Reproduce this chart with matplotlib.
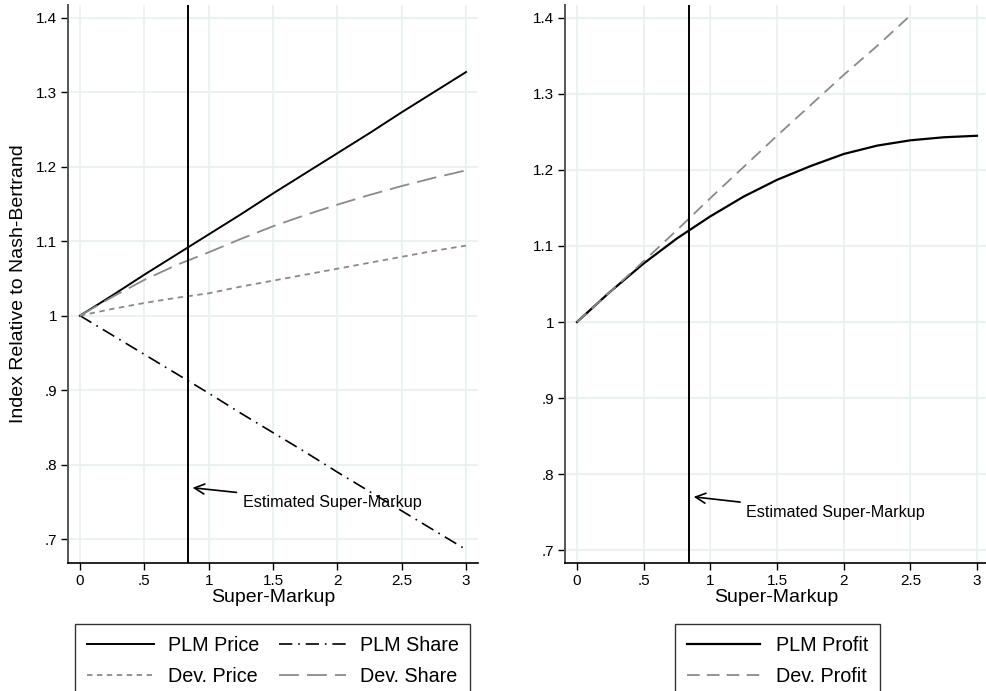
import numpy as np
import matplotlib
matplotlib.use("Agg")
import matplotlib.pyplot as plt
from matplotlib.lines import Line2D

plt.rcParams['font.family'] = ['Liberation Sans', 'DejaVu Sans']

# data
markup = [0, 0.25, 0.5, 0.75, 1, 1.25, 1.5, 1.75, 2, 2.25, 2.5, 2.75, 3]
plm_price = [1, 1.027, 1.055, 1.082, 1.109, 1.136, 1.164, 1.191, 1.218, 1.245, 1.273, 1.300, 1.327]
plm_share = [1, 0.974, 0.948, 0.922, 0.896, 0.869, 0.843, 0.817, 0.790, 0.764, 0.738, 0.712, 0.686]
dev_price = [1, 1.009, 1.017, 1.024, 1.030, 1.039, 1.047, 1.055, 1.063, 1.071, 1.079, 1.087, 1.094]
dev_share = [1, 1.025, 1.048, 1.068, 1.085, 1.103, 1.120, 1.135, 1.149, 1.162, 1.174, 1.185, 1.195]
plm_profit = [1, 1.040, 1.077, 1.110, 1.139, 1.165, 1.187, 1.205, 1.221, 1.232, 1.239, 1.243, 1.245]
dev_markup = [0, 0.25, 0.5, 0.75, 1, 1.25, 1.5, 1.75, 2, 2.25, 2.48]
dev_profit = [1, 1.040, 1.080, 1.121, 1.163, 1.204, 1.245, 1.285, 1.325, 1.363, 1.40]
est_markup = 0.84

xticks = [0, 0.5, 1, 1.5, 2, 2.5, 3]
xtick_labels = ["0", ".5", "1", "1.5", "2", "2.5", "3"]
yticks = [0.7, 0.8, 0.9, 1.0, 1.1, 1.2, 1.3, 1.4]
ytick_labels = [".7", ".8", ".9", "1", "1.1", "1.2", "1.3", "1.4"]

grey = "#8a8a8a"
gridc = "#e8f0f2"

fig = plt.figure(figsize=(9.87, 6.91), dpi=100)
ax1 = fig.add_axes([68/987, 1-563/691, (478-68)/987, (563-5)/691])
ax2 = fig.add_axes([565/987, 1-563/691, (987-565)/987, (563-5)/691])


def style(ax, xlim, ylim):
    ax.set_xlim(*xlim)
    ax.set_ylim(*ylim)
    ax.set_xticks(xticks)
    ax.set_xticklabels(xtick_labels)
    ax.set_yticks(yticks)
    ax.set_yticklabels(ytick_labels)
    ax.grid(True, color=gridc, lw=1.2)
    ax.set_axisbelow(True)
    for s in ["top", "right"]:
        ax.spines[s].set_visible(False)
    ax.spines["left"].set_color("#555555")
    ax.spines["left"].set_linewidth(1.4)
    ax.spines["bottom"].set_linewidth(1.2)
    ax.tick_params(labelsize=11, length=5, width=1, pad=3)
    ax.set_xlabel("Super-Markup", fontsize=14, labelpad=1)


# left panel
style(ax1, (-0.093, 3.093), (0.668, 1.417))
ax1.plot(markup, plm_price, color="black", lw=1.4)
ax1.plot(markup, plm_share, color="black", lw=1.2, dashes=(8, 3.5, 1, 3.5))
ax1.plot(markup, dev_price, color=grey, lw=1.3, dashes=(3, 2.5))
ax1.plot(markup, dev_share, color=grey, lw=1.3, dashes=(11, 4.5))
ax1.axvline(est_markup, color="black", lw=1.4)
ax1.annotate("Estimated Super-Markup", xy=(0.875, 0.769), xytext=(1.27, 0.749),
             fontsize=11.6, va="center", ha="left",
             arrowprops=dict(arrowstyle="->", color="black", lw=1.2,
                             mutation_scale=18, shrinkA=3, shrinkB=0))
ax1.set_ylabel("Index Relative to Nash-Bertrand", fontsize=14, labelpad=6)

# right panel
style(ax2, (-0.09, 3.075), (0.683, 1.417))
ax2.plot(markup, plm_profit, color="black", lw=1.6)
ax2.plot(dev_markup, dev_profit, color=grey, lw=1.3, dashes=(7, 4))
ax2.axvline(est_markup, color="black", lw=1.4)
ax2.annotate("Estimated Super-Markup", xy=(0.875, 0.77), xytext=(1.27, 0.749),
             fontsize=11.6, va="center", ha="left",
             arrowprops=dict(arrowstyle="->", color="black", lw=1.2,
                             mutation_scale=18, shrinkA=3, shrinkB=0))

# legends
h1 = [Line2D([], [], color="black", lw=1.4),
      Line2D([], [], color=grey, lw=1.3, dashes=(3, 2.5)),
      Line2D([], [], color="black", lw=1.2, dashes=(8, 3.5, 1, 3.5)),
      Line2D([], [], color=grey, lw=1.3, dashes=(11, 4.5))]
l1 = ["PLM Price", "Dev. Price", "PLM Share", "Dev. Share"]
leg1 = fig.legend(h1, l1, ncol=2, loc="upper left",
                  bbox_to_anchor=(75/987, 1-624/691), fontsize=14.2,
                  handlelength=3.4, handletextpad=0.7, columnspacing=1.0,
                  labelspacing=0.62, borderpad=0.6, borderaxespad=0,
                  frameon=True, fancybox=False, edgecolor="black")
leg1.get_frame().set_linewidth(1.0)

h2 = [Line2D([], [], color="black", lw=1.6),
      Line2D([], [], color=grey, lw=1.3, dashes=(7, 4))]
l2 = ["PLM Profit", "Dev. Profit"]
leg2 = fig.legend(h2, l2, ncol=1, loc="upper left",
                  bbox_to_anchor=(675/987, 1-624/691), fontsize=14.2,
                  handlelength=3.7, handletextpad=0.8,
                  labelspacing=0.62, borderpad=0.6, borderaxespad=0,
                  frameon=True, fancybox=False, edgecolor="black")
leg2.get_frame().set_linewidth(1.0)

fig.savefig("out.png", dpi=100)
